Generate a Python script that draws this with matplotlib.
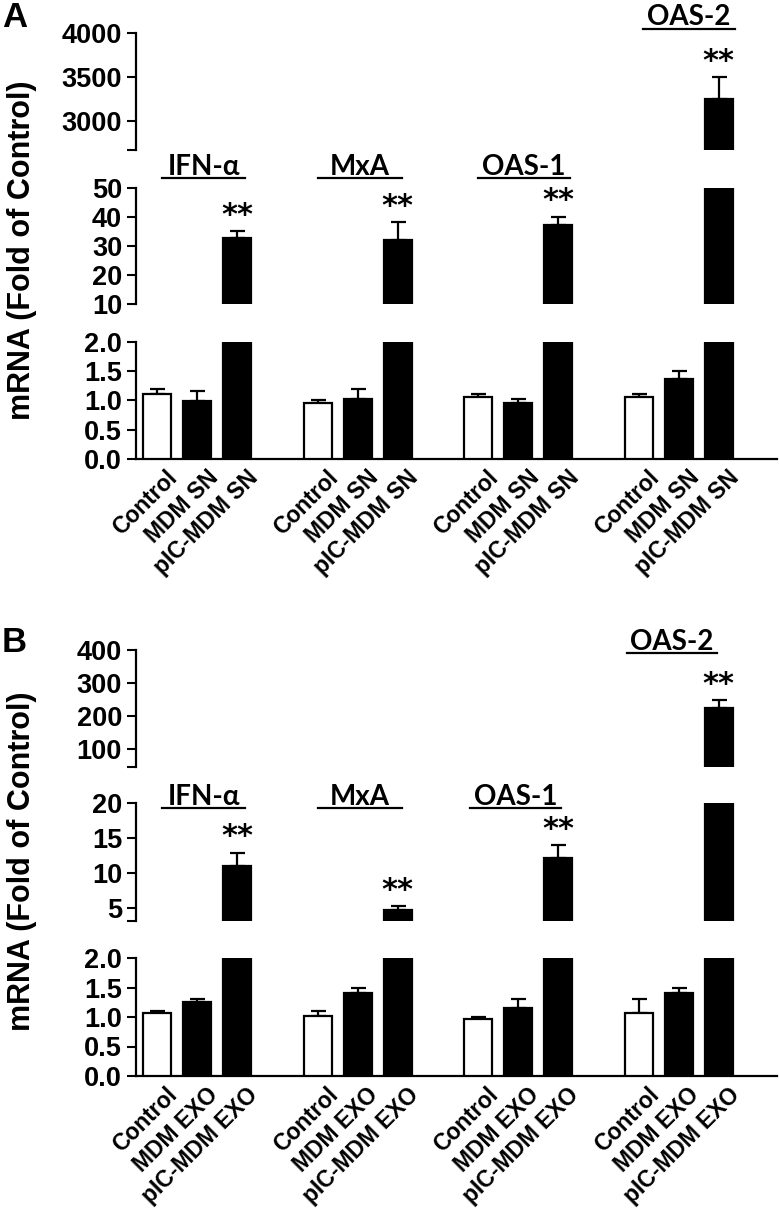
import numpy as np
import matplotlib.pyplot as plt
import matplotlib.transforms as mtransforms

plt.rcParams['font.family'] = ['Liberation Sans', 'DejaVu Sans']
plt.rcParams['font.weight'] = 'bold'

# ---- data ----
genes = ['IFN-\u03b1', 'MxA', 'OAS-1', 'OAS-2']

# panel A : supernatant
sn_labels = ['Control', 'MDM SN', 'pIC-MDM SN']
sn_ctrl = [1.11, 0.96, 1.06, 1.06]
sn_ctrl_err = [0.09, 0.045, 0.05, 0.05]
sn_mdm = [0.99, 1.02, 0.96, 1.36]
sn_mdm_err = [0.18, 0.18, 0.06, 0.14]
sn_pic = [32.9, 32.1, 37.2, 3250]
sn_pic_err = [2.3, 6.1, 2.9, 250]

# panel B : exosomes
exo_labels = ['Control', 'MDM EXO', 'pIC-MDM EXO']
exo_ctrl = [1.06, 1.02, 0.96, 1.06]
exo_ctrl_err = [0.04, 0.09, 0.045, 0.25]
exo_mdm = [1.26, 1.41, 1.16, 1.40]
exo_mdm_err = [0.05, 0.09, 0.14, 0.10]
exo_pic = [11.0, 4.7, 12.1, 223]
exo_pic_err = [1.9, 0.5, 1.9, 25]

W, H = 780, 1209
fig = plt.figure(figsize=(W / 100, H / 100), dpi=100)
LEFT, RIGHT = 136, 777


def add_ax(top, bottom):
    return fig.add_axes([LEFT / W, 1 - bottom / H, (RIGHT - LEFT) / W, (bottom - top) / H])


def draw_panel(segs, ctrl, ctrl_err, mdm, mdm_err, pic, pic_err, xlabels,
               label_pos, letter, letter_y, ylab_y):
    xg = np.arange(4) * 4
    axes = []
    for i, (top, bot, ylim, ticks, tlabels) in enumerate(segs):
        ax = add_ax(top, bot)
        axes.append(ax)
        zeros = np.zeros(4)
        ax.bar(xg, ctrl, 0.7, color='white', edgecolor='black', lw=1.6, zorder=3)
        ax.bar(xg + 1, mdm, 0.7, color='black', edgecolor='black', lw=1.6, zorder=3)
        ax.bar(xg + 2, pic, 0.7, color='black', edgecolor='black', lw=1.6, zorder=3)
        for xs, v, e in [(xg, ctrl, ctrl_err), (xg + 1, mdm, mdm_err), (xg + 2, pic, pic_err)]:
            ax.errorbar(xs, v, yerr=[zeros, e], fmt='none', ecolor='black',
                        elinewidth=1.6, capsize=5.4, capthick=1.6, zorder=2)
        # significance stars
        for x, v, e in zip(xg + 2, pic, pic_err):
            if ylim[0] < v < ylim[1]:
                ax.annotate('**', xy=(x, v + e), xytext=(0, 1), textcoords='offset points',
                            ha='center', va='bottom', fontsize=22, family='DejaVu Sans',
                            fontweight='bold')
        ax.set_xlim(-0.525, 15.45)
        ax.set_ylim(*ylim)
        ax.set_yticks(ticks)
        ax.set_yticklabels(tlabels)
        for s in ['top', 'right']:
            ax.spines[s].set_visible(False)
        ax.spines['left'].set_linewidth(1.6)
        ax.tick_params(axis='y', direction='out', length=6.5, width=1.5, pad=3.5, labelsize=19.5)
        if i < 2:
            ax.spines['bottom'].set_visible(False)
            ax.set_xticks([])
        else:
            ax.spines['bottom'].set_linewidth(1.6)
            ax.set_xticks(np.concatenate([xg, xg + 1, xg + 2]))
            ax.set_xticklabels([xlabels[0]] * 4 + [xlabels[1]] * 4 + [xlabels[2]] * 4,
                               rotation=45, ha='right', rotation_mode='anchor', fontsize=16.5)
            ax.tick_params(axis='x', length=0, pad=5)
            off = mtransforms.ScaledTranslation(0.09, 0, fig.dpi_scale_trans)
            for lab in ax.get_xticklabels():
                lab.set_transform(lab.get_transform() + off)
    # gene labels with underline
    for g, (name, (seg, base_px, line_px, x0, x1)) in enumerate(zip(genes, label_pos)):
        ax = axes[seg]
        hpx = ax.get_position().height * H
        tr = ax.get_xaxis_transform()
        ax.text(g * 4 + (x0 + x1) / 2, 1 + base_px / hpx, name, transform=tr,
                ha='center', va='baseline', fontsize=20,
                family=['Lato', 'DejaVu Sans'], fontweight='bold', clip_on=False)
        ax.plot([g * 4 + x0, g * 4 + x1], [1 + line_px / hpx] * 2, transform=tr,
                color='black', lw=1.6, clip_on=False)
    fig.text(2 / W, 1 - letter_y / H, letter, fontsize=25, fontweight='bold',
             ha='left', va='top')
    fig.text(22 / W, 1 - ylab_y / H, 'mRNA (Fold of Control)', fontsize=22,
             fontweight='bold', rotation=90, ha='center', va='center')


segs_a = [
    (33, 150, (2670, 4000), [2670, 3000, 3500, 4000], ['', '3000', '3500', '4000']),
    (188, 304, (10, 50), [10, 20, 30, 40, 50], ['10', '20', '30', '40', '50']),
    (342, 459, (0, 2), [0, 0.5, 1, 1.5, 2], ['0.0', '0.5', '1.0', '1.5', '2.0']),
]
segs_b = [
    (650, 767, (45, 400), [45, 100, 200, 300, 400], ['', '100', '200', '300', '400']),
    (803, 921, (3.1, 20), [3.1, 5, 10, 15, 20], ['', '5', '10', '15', '20']),
    (958, 1076, (0, 2), [0, 0.5, 1, 1.5, 2], ['0.0', '0.5', '1.0', '1.5', '2.0']),
]

# (segment, text baseline px above axes top, underline px above axes top, x0, x1)
lab_a = [(1, 13, 10, 0.12, 2.2), (1, 13, 10, 0.0, 2.1), (1, 13, 10, 0.0, 2.3), (0, 8, 4, 0.1, 2.4)]
lab_b = [(1, -2, -5, 0.12, 2.2), (1, -2, -5, 0.0, 2.1), (1, -2, -5, -0.2, 2.07), (0, 0, -3, -0.3, 1.95)]

draw_panel(segs_a, sn_ctrl, sn_ctrl_err, sn_mdm, sn_mdm_err, sn_pic, sn_pic_err,
           sn_labels, lab_a, 'A', 1, 250)
draw_panel(segs_b, exo_ctrl, exo_ctrl_err, exo_mdm, exo_mdm_err, exo_pic, exo_pic_err,
           exo_labels, lab_b, 'B', 626, 861)

fig.savefig('out.png', dpi=100)
